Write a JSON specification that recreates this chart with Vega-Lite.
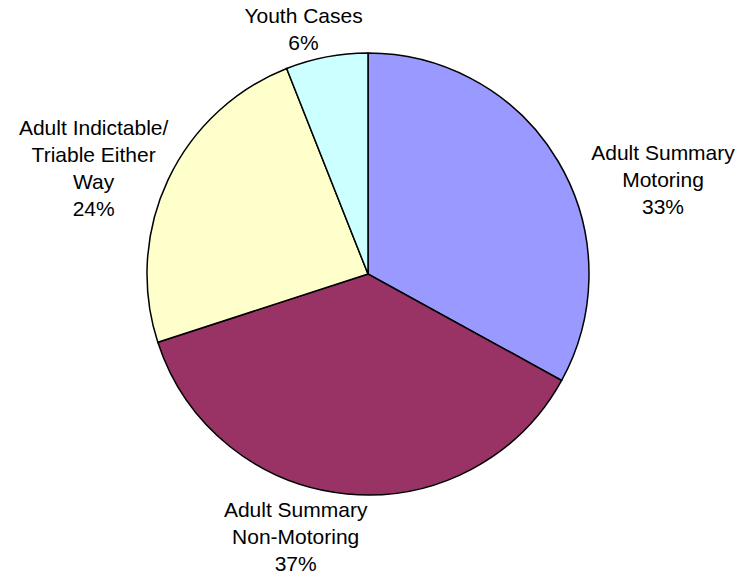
{
  "$schema": "https://vega.github.io/schema/vega-lite/v6.json",
  "width": 736,
  "height": 548,
  "autosize": "none",
  "padding": {"left": 0, "right": 4, "top": 0, "bottom": 33},
  "background": "white",
  "config": {"view": {"stroke": null}},
  "data": {
    "values": [
      {"category": "Adult Summary Motoring", "value": 33, "order": 1, "label": "Adult Summary\nMotoring\n33%"},
      {"category": "Adult Summary Non-Motoring", "value": 37, "order": 2, "label": "Adult Summary\nNon-Motoring\n37%"},
      {"category": "Adult Indictable/Triable Either Way", "value": 24, "order": 3, "label": "Adult Indictable/\nTriable Either\nWay\n24%"},
      {"category": "Youth Cases", "value": 6, "order": 4, "label": "Youth Cases\n6%"}
    ]
  },
  "encoding": {
    "theta": {"field": "value", "type": "quantitative", "stack": true},
    "order": {"field": "order", "type": "quantitative"}
  },
  "layer": [
    {
      "mark": {"type": "arc", "radius": 221, "stroke": "black", "strokeWidth": 1.5},
      "encoding": {
        "color": {
          "field": "category",
          "type": "nominal",
          "scale": {
            "domain": ["Adult Summary Motoring", "Adult Summary Non-Motoring", "Adult Indictable/Triable Either Way", "Youth Cases"],
            "range": ["#9999FF", "#993366", "#FFFFCC", "#CCFFFF"]
          },
          "legend": null
        }
      }
    },
    {
      "mark": {"type": "text", "radius": 280, "dx": 54, "dy": 23, "font": "Liberation Sans", "fontSize": 21, "lineHeight": 27, "lineBreak": "\n", "align": "center", "baseline": "middle", "color": "black"},
      "encoding": {
        "text": {"condition": {"test": "datum.category === 'Adult Summary Motoring'", "field": "label"}, "value": ""}
      }
    },
    {
      "mark": {"type": "text", "radius": 280, "dx": -46, "dy": -42, "font": "Liberation Sans", "fontSize": 21, "lineHeight": 27, "lineBreak": "\n", "align": "center", "baseline": "middle", "color": "black"},
      "encoding": {
        "text": {"condition": {"test": "datum.category === 'Adult Summary Non-Motoring'", "field": "label"}, "value": ""}
      }
    },
    {
      "mark": {"type": "text", "radius": 280, "dx": -21, "dy": -26, "font": "Liberation Sans", "fontSize": 21, "lineHeight": 27, "lineBreak": "\n", "align": "center", "baseline": "middle", "color": "black"},
      "encoding": {
        "text": {"condition": {"test": "datum.category === 'Adult Indictable/Triable Either Way'", "field": "label"}, "value": ""}
      }
    },
    {
      "mark": {"type": "text", "radius": 280, "dx": -12, "dy": 18, "font": "Liberation Sans", "fontSize": 21, "lineHeight": 27, "lineBreak": "\n", "align": "center", "baseline": "middle", "color": "black"},
      "encoding": {
        "text": {"condition": {"test": "datum.category === 'Youth Cases'", "field": "label"}, "value": ""}
      }
    }
  ]
}
